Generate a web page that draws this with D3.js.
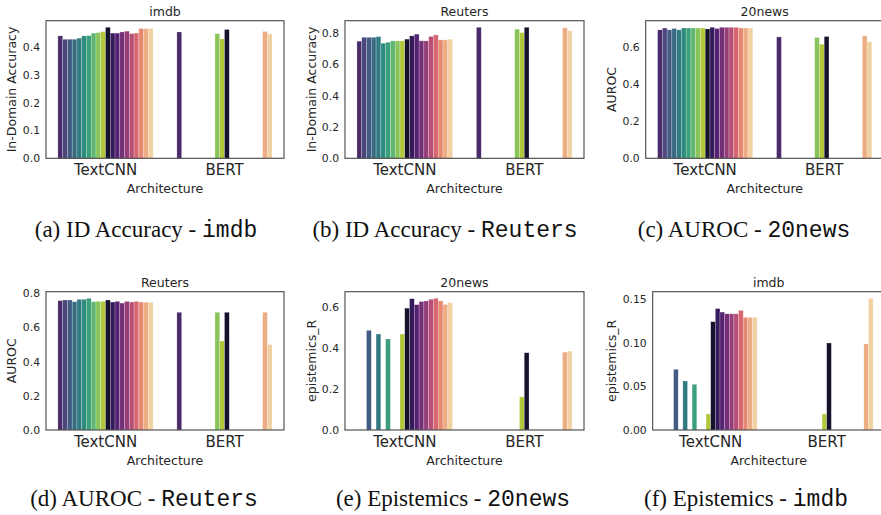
<!DOCTYPE html>
<html>
<head>
<meta charset="utf-8">
<script src="https://cdn.jsdelivr.net/npm/d3@7"></script>
<style>
  body { margin: 0; background: #fff; }
  svg text { font-family: 'DejaVu Sans', sans-serif; fill: #262626; }
  .caption text { font-family: 'Liberation Serif', serif; fill: #111; }
  .caption .tt { font-family: 'Liberation Mono', monospace; }
</style>
</head>
<body>
<svg id="chart" width="881" height="515"></svg>
<script>
// hue levels (20 methods), x categories
var methods = [0, 1, 2, 3, 4, 5, 6, 7, 8, 9, 10, 11, 12, 13, 14, 15, 16, 17, 18, 19]
var architectures = ['TextCNN', 'BERT']

// (a) ID accuracy - imdb
var accImdbCNN = [0.440, 0.428, 0.428, 0.428, 0.432, 0.440, 0.441, 0.450, 0.452, 0.455, 0.471, 0.450, 0.450, 0.454, 0.457, 0.448, 0.450, 0.466, 0.466, 0.466]
var accImdbBERT = [0.454, null, null, null, null, null, null, null, 0.448, 0.429, 0.463, null, null, null, null, null, null, null, 0.456, 0.447]

// (b) ID accuracy - Reuters
var accReutersCNN = [0.749, 0.774, 0.774, 0.774, 0.778, 0.736, 0.742, 0.751, 0.751, 0.751, 0.762, 0.783, 0.794, 0.751, 0.751, 0.779, 0.789, 0.757, 0.757, 0.762]
var accReutersBERT = [0.838, null, null, null, null, null, null, null, 0.826, 0.804, 0.838, null, null, null, null, null, null, null, 0.834, 0.815]

// (c) AUROC - 20news
var aurocNewsCNN = [0.690, 0.700, 0.690, 0.697, 0.690, 0.700, 0.700, 0.700, 0.700, 0.700, 0.695, 0.704, 0.697, 0.704, 0.704, 0.704, 0.704, 0.700, 0.700, 0.700]
var aurocNewsBERT = [0.652, null, null, null, null, null, null, null, 0.649, 0.613, 0.654, null, null, null, null, null, null, null, 0.658, 0.627]

// (d) AUROC - Reuters
var aurocReutersCNN = [0.757, 0.761, 0.761, 0.751, 0.765, 0.765, 0.771, 0.751, 0.753, 0.753, 0.761, 0.749, 0.753, 0.743, 0.753, 0.749, 0.753, 0.749, 0.748, 0.748]
var aurocReutersBERT = [0.689, null, null, null, null, null, null, null, 0.689, 0.521, 0.689, null, null, null, null, null, null, null, 0.689, 0.500]

// (e) epistemics - 20news
var epiNewsCNN = [null, null, 0.485, null, 0.467, null, 0.443, null, null, 0.467, 0.593, 0.639, 0.610, 0.625, 0.628, 0.636, 0.641, 0.628, 0.611, 0.619]
var epiNewsBERT = [null, null, null, null, null, null, null, null, null, 0.161, 0.376, null, null, null, null, null, null, null, 0.379, 0.384]

// (f) epistemics - imdb
var epiImdbCNN = [null, null, 0.0695, null, 0.0561, null, 0.0523, null, null, 0.0183, 0.124, 0.139, 0.135, 0.133, 0.133, 0.133, 0.137, 0.129, 0.129, 0.129]
var epiImdbBERT = [null, null, null, null, null, null, null, null, null, 0.0183, 0.0996, null, null, null, null, null, null, null, 0.0985, 0.1508]

var ticks01 = [0.0, 0.1, 0.2, 0.3, 0.4]
var ticks08 = [0.0, 0.2, 0.4, 0.6, 0.8]
var ticks06 = [0.0, 0.2, 0.4, 0.6]
var ticks015 = [0.00, 0.05, 0.10, 0.15]

var panels = [
  { title: 'imdb', ylabel: 'In-Domain Accuracy', cnn: accImdbCNN, bert: accImdbBERT, ticks: ticks01, fmt: '.1f',
    box: [46, 20.7, 238, 137.6], ylx: 12, cap: ['(a) ID Accuracy - ', 'imdb'], capx: 146, capy: 237 },
  { title: 'Reuters', ylabel: 'In-Domain Accuracy', cnn: accReutersCNN, bert: accReutersBERT, ticks: ticks08, fmt: '.1f',
    box: [345, 20.7, 239, 137.6], ylx: 312, cap: ['(b) ID Accuracy - ', 'Reuters'], capx: 445, capy: 237 },
  { title: '20news', ylabel: 'AUROC', cnn: aurocNewsCNN, bert: aurocNewsBERT, ticks: ticks06, fmt: '.1f',
    box: [645.7, 20.7, 238, 137.6], ylx: 612, cap: ['(c) AUROC - ', '20news'], capx: 744, capy: 237 },
  { title: 'Reuters', ylabel: 'AUROC', cnn: aurocReutersCNN, bert: aurocReutersBERT, ticks: ticks08, fmt: '.1f',
    box: [46, 291.7, 238, 138.3], ylx: 12, cap: ['(d) AUROC - ', 'Reuters'], capx: 144, capy: 506 },
  { title: '20news', ylabel: 'epistemics_R', cnn: epiNewsCNN, bert: epiNewsBERT, ticks: ticks06, fmt: '.1f',
    box: [345, 291.7, 239, 138.3], ylx: 312, cap: ['(e) Epistemics - ', '20news'], capx: 453, capy: 506 },
  { title: 'imdb', ylabel: 'epistemics_R', cnn: epiImdbCNN, bert: epiImdbBERT, ticks: ticks015, fmt: '.2f',
    box: [652.7, 291.7, 232, 138.3], ylx: 612, cap: ['(f) Epistemics - ', 'imdb'], capx: 746, capy: 506 }
]

// seaborn-like palette: viridis then magma, desaturated to 0.75
function hueColor(i) {
  var t = ((i % 10) + 1) / 11
  var c = d3.hsl(i < 10 ? d3.interpolateViridis(t) : d3.interpolateMagma(t))
  c.s *= 0.75
  return c.formatHex()
}

var svg = d3.select('#chart')

panels.forEach(function (p) {
  var left = p.box[0], top = p.box[1], w = p.box[2], h = p.box[3]

  var rows = []
  architectures.forEach(function (a) {
    var vals = a === 'TextCNN' ? p.cnn : p.bert
    methods.forEach(function (m) {
      if (vals[m] != null) rows.push({ arch: a, m: m, v: vals[m] })
    })
  })

  var ymax = d3.max(rows, function (d) { return d.v }) * 1.05
  var y = d3.scaleLinear().domain([0, ymax]).range([h, 0])
  // categorical x: centers at 0 and 1, limits -0.5..1.5
  var xc = d3.scaleLinear().domain([-0.5, 1.5]).range([0, w])
  var x0 = d3.scaleBand().domain(architectures).range([xc(-0.5), xc(1.5)]).paddingInner(0.2).paddingOuter(0.1)
  var x1 = d3.scaleBand().domain(methods).range([0, x0.bandwidth()])

  var g = svg.append('g').attr('transform', 'translate(' + left + ',' + top + ')')

  g.selectAll('rect.bar')
      .data(rows)
    .enter().append('rect')
      .attr('class', 'bar')
      .attr('x', function (d) { return x0(d.arch) + x1(d.m) })
      .attr('y', function (d) { return y(d.v) })
      .attr('width', x1.bandwidth())
      .attr('height', function (d) { return h - y(d.v) })
      .attr('fill', function (d) { return hueColor(d.m) })
      .attr('stroke', '#fff')
      .attr('stroke-opacity', 0.45)
      .attr('stroke-width', 0.5)

  g.append('rect')
    .attr('width', w)
    .attr('height', h)
    .attr('fill', 'none')
    .attr('stroke', '#444')
    .attr('stroke-width', 1.1)

  // y axis labels (no tick marks)
  var yAxis = g.append('g')
    .call(d3.axisLeft(y).tickValues(p.ticks).tickFormat(d3.format(p.fmt)).tickSize(0).tickPadding(6))
  yAxis.select('.domain').remove()
  yAxis.selectAll('text').style('font-size', '10.8px').attr('fill', '#262626')

  var xAxis = g.append('g')
    .attr('transform', 'translate(0,' + h + ')')
    .call(d3.axisBottom(x0).tickSize(0).tickPadding(6))
  xAxis.select('.domain').remove()
  xAxis.selectAll('text').style('font-size', '15px').attr('fill', '#262626')

  g.append('text')
    .attr('x', w / 2)
    .attr('y', -5)
    .attr('text-anchor', 'middle')
    .style('font-size', '12.5px')
    .text(p.title)

  g.append('text')
    .attr('x', w / 2)
    .attr('y', h + 35)
    .attr('text-anchor', 'middle')
    .style('font-size', '12.5px')
    .text('Architecture')

  svg.append('text')
    .attr('transform', 'translate(' + (p.ylx + 4) + ',' + (top + h / 2) + ') rotate(-90)')
    .attr('text-anchor', 'middle')
    .style('font-size', '12.5px')
    .text(p.ylabel)

  var cap = svg.append('g').attr('class', 'caption')
    .append('text')
      .attr('x', p.capx)
      .attr('y', p.capy)
      .attr('text-anchor', 'middle')
      .style('font-size', '23px')
  cap.append('tspan').text(p.cap[0])
  cap.append('tspan').attr('class', 'tt').text(p.cap[1])
})
</script>
</body>
</html>
